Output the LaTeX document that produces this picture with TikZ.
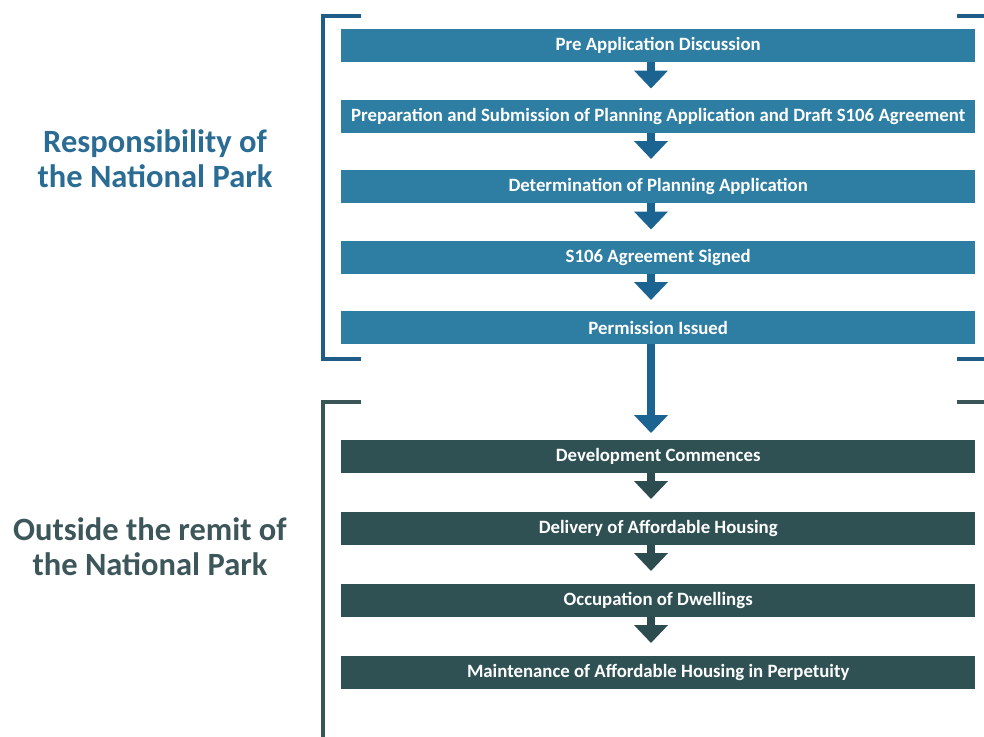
\documentclass[tikz,border=0pt]{standalone}
\usepackage{fontspec}
\setmainfont{Carlito}
\usetikzlibrary{arrows.meta,calc}
\definecolor{topbox}{HTML}{2E7DA2}
\definecolor{toparrow}{HTML}{1B6391}
\definecolor{topbrk}{HTML}{1F5C88}
\definecolor{toplabel}{HTML}{2B6C94}
\definecolor{lowbox}{HTML}{2F5154}
\definecolor{lowarrow}{HTML}{2C4C50}
\definecolor{lowbrk}{HTML}{3A5558}
\definecolor{lowlabel}{HTML}{3D5659}
\tikzset{
  stage/.style={minimum width=634pt, minimum height=33pt, inner sep=0pt, anchor=north west,
    text=white, font=\bfseries\fontsize{18.8}{21}\selectfont},
  topstage/.style={stage, fill=topbox},
  lowstage/.style={stage, fill=lowbox},
  toparr/.style={draw=toparrow, line width=8pt, -{Triangle[width=33pt,length=18pt]}},
  lowarr/.style={draw=lowarrow, line width=8pt, -{Triangle[width=33pt,length=18pt]}},
  topbr/.style={draw=topbrk, line width=3.5pt},
  lowbr/.style={draw=lowbrk, line width=3.5pt},
  sidelabel/.style={align=center, font=\bfseries\fontsize{32.5}{35}\selectfont}
}
\begin{document}
\begin{tikzpicture}[x=1pt,y=-1pt]
\useasboundingbox (0,0) rectangle (984,736);
% top stages
\node[topstage] (b1) at (341,29) {Pre Application Discussion};
\node[topstage] (b2) at (341,99.5) {Preparation and Submission of Planning Application and Draft S106 Agreement};
\node[topstage] (b3) at (341,170) {Determination of Planning Application};
\node[topstage] (b4) at (341,240.5) {S106 Agreement Signed};
\node[topstage] (b5) at (341,311) {Permission Issued};
% lower stages
\node[lowstage] (d1) at (341,440) {Development Commences};
\node[lowstage] (d2) at (341,512) {Delivery of Affordable Housing};
\node[lowstage] (d3) at (341,584) {Occupation of Dwellings};
\node[lowstage] (d4) at (341,656) {Maintenance of Affordable Housing in Perpetuity};
\coordinate (ax) at (651,0);
% arrows
\draw[toparr] (b1.south -| ax) -- ($(b2.north -| ax)+(0,-11)$);
\draw[toparr] (b2.south -| ax) -- ($(b3.north -| ax)+(0,-11)$);
\draw[toparr] (b3.south -| ax) -- ($(b4.north -| ax)+(0,-11)$);
\draw[toparr] (b4.south -| ax) -- ($(b5.north -| ax)+(0,-11)$);
\draw[toparr] (b5.south -| ax) -- ($(d1.north -| ax)+(0,-7)$);
\draw[lowarr] (d1.south -| ax) -- ($(d2.north -| ax)+(0,-13)$);
\draw[lowarr] (d2.south -| ax) -- ($(d3.north -| ax)+(0,-13)$);
\draw[lowarr] (d3.south -| ax) -- ($(d4.north -| ax)+(0,-13)$);
% brackets
\draw[topbr] (361,16) -- (323,16) -- (323,359) -- (361,359);
\draw[topbr] (957,16) -- (984,16);
\draw[topbr] (957,359) -- (984,359);
\draw[lowbr] (361,402) -- (323,402) -- (323,738.5) -- (361,738.5);
\draw[lowbr] (957,402) -- (984,402);
\draw[lowbr] (957,738.5) -- (984,738.5);
% labels
\node[sidelabel, text=toplabel] (l1) at (155,159) {Responsibility of\\the National Park};
\node[sidelabel, text=lowlabel] (l2) at (150,547) {Outside the remit of\\the National Park};
\end{tikzpicture}
\end{document}
